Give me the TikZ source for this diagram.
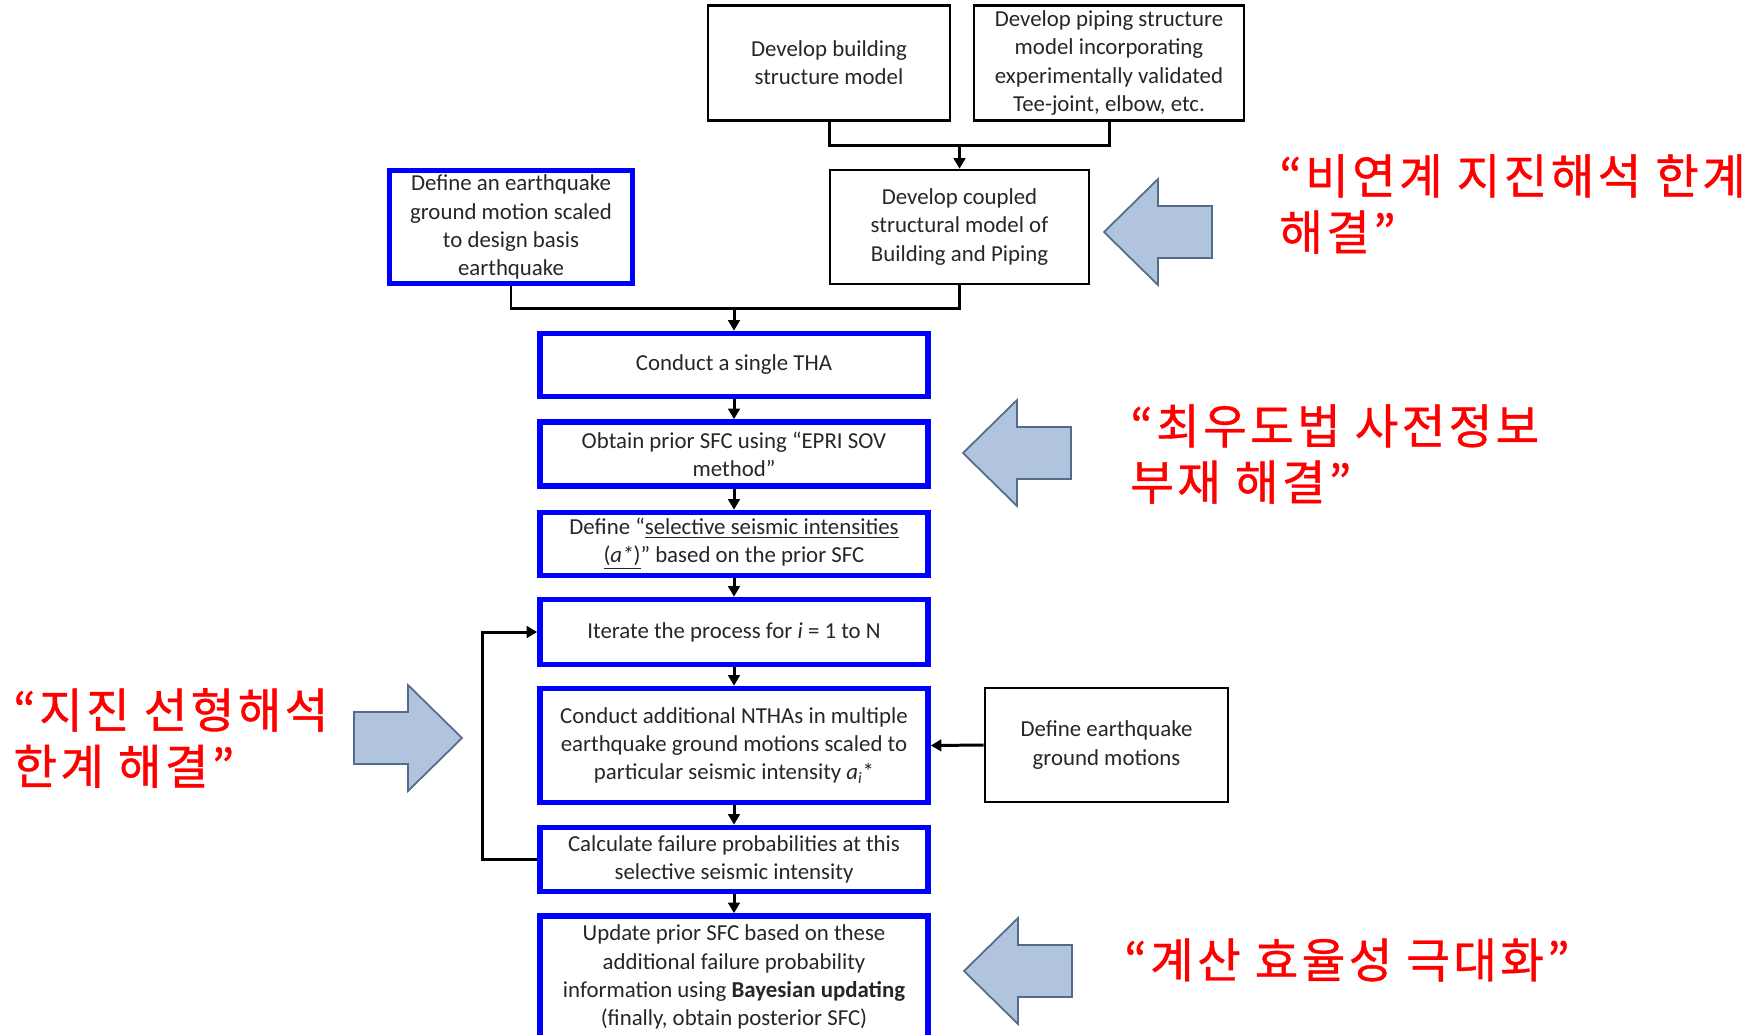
\documentclass[tikz,border=0pt]{standalone}
\usepackage{fontspec}
\setmainfont{Carlito}
\newfontfamily\kr[FakeBold=0.8,LetterSpace=7]{Noto Sans CJK KR}
\usetikzlibrary{arrows.meta}
\definecolor{boxblue}{RGB}{0,0,255}
\definecolor{arrowfill}{RGB}{176,196,222}
\definecolor{arrowedge}{RGB}{84,108,140}
\definecolor{notered}{RGB}{255,0,0}
\newcommand{\BoxFont}{\fontsize{13}{16}\selectfont}
\newcommand{\KrFont}{\kr\fontsize{27}{32}\selectfont}
% block arrow: tip x, tip y, direction (1 = points left, -1 = points right)
\newcommand{\blockarrow}[3]{%
  \draw[bigarrow] (#1,#2) -- ++(#3*54,-53) -- ++(0,27) -- ++(#3*54,0)
    -- ++(0,52) -- ++(-#3*54,0) -- ++(0,27) -- cycle;}

\begin{document}
\begin{tikzpicture}[x=0.2mm, y=-0.2mm,
  >={Triangle[length=2.1mm,width=2.3mm]},
  blackbox/.style={draw=black, line width=1.5pt, align=center, font=\BoxFont, text=black!85, inner sep=2pt},
  bluebox/.style={draw=boxblue, line width=3.2pt, align=center, font=\BoxFont, text=black!85, inner sep=1pt, minimum width=77.6mm},
  link/.style={line width=1.7pt},
  bigarrow/.style={fill=arrowfill, draw=arrowedge, line width=1pt},
  note/.style={text=notered, font=\KrFont, align=left, anchor=west, inner sep=0pt}]
\useasboundingbox (0,0) rectangle (1754,1034);

\node[blackbox, minimum width=48.4mm, minimum height=23mm] (bldg) at (829,63) {Develop building\\structure model};
\node[blackbox, minimum width=54mm, minimum height=23mm] (pipe) at (1109,63) {Develop piping structure\\model incorporating\\experimentally validated\\Tee-joint, elbow, etc.};
\node[blackbox, minimum width=51.8mm, minimum height=22.8mm] (coupled) at (959.5,227) {Develop coupled\\structural model of\\Building and Piping};
\node[bluebox, minimum width=48.6mm, minimum height=22.6mm] (eq-def) at (511,227) {Define an earthquake\\ground motion scaled\\to design basis\\earthquake};

\node[bluebox, minimum height=12.6mm] (tha) at (734,365) {Conduct a single THA};
\node[bluebox, minimum height=12.8mm] (prior) at (734,454) {Obtain prior SFC using “EPRI SOV\\method”};
\node[bluebox, minimum height=12.6mm] (sel) at (734,544) {Define “\underline{selective seismic intensities}\\\underline{(\textit{a*})}” based on the prior SFC};
\node[bluebox, minimum height=13mm] (iter) at (734,632) {Iterate the process for \textit{i} = 1 to N};
\node[bluebox, minimum height=22.8mm] (ntha) at (734,745.5) {Conduct additional NTHAs in multiple\\earthquake ground motions scaled to\\particular seismic intensity \textit{a\textsubscript{i}}*};
\node[bluebox, minimum height=12.8mm] (fail) at (734,859.5) {Calculate failure probabilities at this\\selective seismic intensity};
\node[bluebox, minimum height=24.4mm] (update) at (734,977) {Update prior SFC based on these\\additional failure probability\\information using \textbf{Bayesian updating}\\(finally, obtain posterior SFC)};
\node[blackbox, minimum width=48.6mm, minimum height=22.8mm] (eq-motions) at (1106.5,745) {Define earthquake\\ground motions};

\coordinate (top-join) at (959.5,145);
\coordinate (mid-join) at (734,308);
\draw[link] (bldg.south) |- (top-join) -| (pipe.south);
\draw[link,->] (top-join) -- (coupled.north);
\draw[link] (eq-def.south) |- (mid-join) -| (coupled.south);
\draw[link,->] (mid-join) -- (tha.north);
\draw[link,->] (tha) -- (prior);
\draw[link,->] (prior) -- (sel);
\draw[link,->] (sel) -- (iter);
\draw[link,->] (iter) -- (ntha);
\draw[link,->] (ntha) -- (fail);
\draw[link,->] (fail) -- (update);
\draw[link,->] (fail.west) -- ++(-55,0) |- (iter.west);
\draw[link,->] (eq-motions.west) -- (ntha.east);

\blockarrow{1104}{232}{1}
\blockarrow{963}{453}{1}
\blockarrow{964}{971}{1}
\blockarrow{462}{738}{-1}

\node[note] (note-coupling) at (1279,204) {“비연계 지진해석 한계\\해결”};
\node[note] (note-prior) at (1130,454) {“최우도법 사전정보\\부재 해결”};
\node[note] (note-linear) at (13,738) {“지진 선형해석\\한계 해결”};
\node[note] (note-cost) at (1124,960) {“계산 효율성 극대화”};
\end{tikzpicture}
\end{document}
